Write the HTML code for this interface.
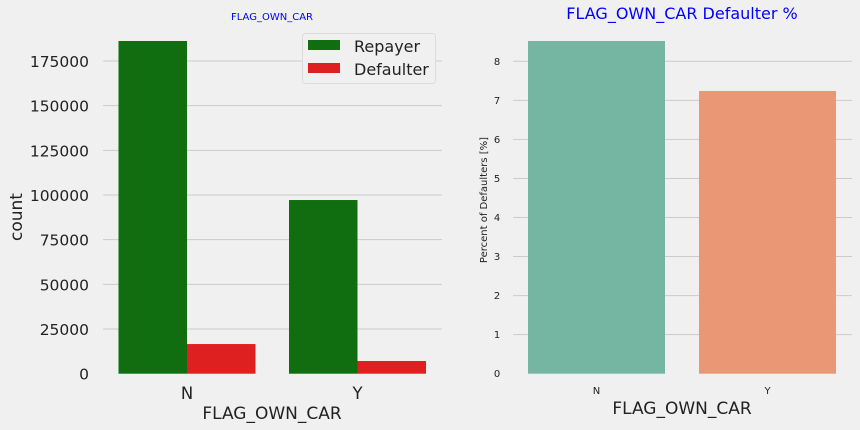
<!DOCTYPE html>
<html><head><meta charset="utf-8"><style>
html,body{margin:0;padding:0;background:#f0f0f0;}
svg{display:block;font-family:"DejaVu Sans","Liberation Sans",sans-serif;}
</style></head><body>
<svg id="c" width="860" height="430"></svg>
<script>
const categories=["N","Y"];
const repayerCounts=[186200,97200];
const defaulterCounts=[16600,7100];
const leftTicks=[0,25000,50000,75000,100000,125000,150000,175000];
const defaulterPct=[8.52,7.24];
const rightTicks=[0,1,2,3,4,5,6,7,8];
const pctColors=["#74b6a2","#e99775"];

const NS="http://www.w3.org/2000/svg";
const svg=document.getElementById('c');
function mk(tag,attrs,parent,text){const e=document.createElementNS(NS,tag);for(const k in attrs)e.setAttribute(k,attrs[k]);if(text!==undefined)e.textContent=text;(parent||svg).appendChild(e);return e;}

const L={x0:103,x1:442,y0:373.7,k:(373.7-61)/175000};
const yL=v=>L.y0-v*L.k;
const catCenterL=i=>187+i*170.5;
const gL=mk('g',{});


leftTicks.forEach(t=>{
  if(t>0){const gl=mk('line',{x1:L.x0,x2:L.x1,y1:yL(t),y2:yL(t),stroke:'#cbcbcb','stroke-width':1},gL);
  }
  const tx=mk('text',{x:89,y:yL(t)+6,'text-anchor':'end','font-size':15.5,fill:'#222'},gL,String(t));
  
});
const bw=68.5;
categories.forEach((c,i)=>{
  const cx=catCenterL(i);
  const r=mk('rect',{x:cx-bw,y:yL(repayerCounts[i]),width:bw,height:L.y0-yL(repayerCounts[i]),fill:'#106e10'},gL);
  
  const d=mk('rect',{x:cx,y:yL(defaulterCounts[i]),width:bw,height:L.y0-yL(defaulterCounts[i]),fill:'#df2020'},gL);
  
  const t=mk('text',{x:cx,y:399,'text-anchor':'middle','font-size':16.5,fill:'#222'},gL,c);
  
});
</script>
<script>
(function(){
const t1=mk('text',{x:272,y:20,'text-anchor':'middle','font-size':10,fill:'#0000ff'},svg,'FLAG_OWN_CAR');

const yl=mk('text',{x:0,y:0,'text-anchor':'middle','font-size':17,fill:'#222',transform:'translate(22,217) rotate(-90)'},svg,'count');

const xl=mk('text',{x:272,y:419,'text-anchor':'middle','font-size':17,fill:'#222'},svg,'FLAG_OWN_CAR');

const lg=mk('g',{});

mk('rect',{x:302.5,y:33.5,width:133,height:50,rx:3,fill:'#f0f0f0',stroke:'#dcdcdc'},lg);
const p1=mk('rect',{x:308,y:40,width:32,height:10,fill:'#106e10'},lg);

const l1=mk('text',{x:354,y:52,'font-size':16,fill:'#222'},lg,'Repayer');

const p2=mk('rect',{x:308,y:63,width:32,height:10,fill:'#df2020'},lg);

const l2=mk('text',{x:354,y:75,'font-size':16,fill:'#222'},lg,'Defaulter');


const R={x0:513,x1:852,y0:373.7,k:(373.7-61.3)/8};
const yR=v=>R.y0-v*R.k;
const cR=i=>596.5+i*171;
const gR=mk('g',{});

rightTicks.forEach(t=>{
  if(t>0){const gl=mk('line',{x1:R.x0,x2:R.x1,y1:yR(t),y2:yR(t),stroke:'#cbcbcb','stroke-width':1},gR);
  }
  const tx=mk('text',{x:497,y:yR(t)+3.5,'text-anchor':'middle','font-size':10,fill:'#222'},gR,String(t));
  
});
categories.forEach((c,i)=>{
  const cx=cR(i);
  const b=mk('rect',{x:cx-68.5,y:yR(defaulterPct[i]),width:137,height:R.y0-yR(defaulterPct[i]),fill:pctColors[i]},gR);
  
  const t=mk('text',{x:cx,y:394,'text-anchor':'middle','font-size':10,fill:'#222'},gR,c);
  
});
const t2=mk('text',{x:682,y:19,'text-anchor':'middle','font-size':16,fill:'#0000ff'},svg,'FLAG_OWN_CAR Defaulter %');

const yl2=mk('text',{x:0,y:0,'text-anchor':'middle','font-size':10,fill:'#222',transform:'translate(487,200) rotate(-90)'},svg,'Percent of Defaulters [%]');

const xl2=mk('text',{x:682,y:414,'text-anchor':'middle','font-size':17,fill:'#222'},svg,'FLAG_OWN_CAR');

})();
</script>
</body></html>
